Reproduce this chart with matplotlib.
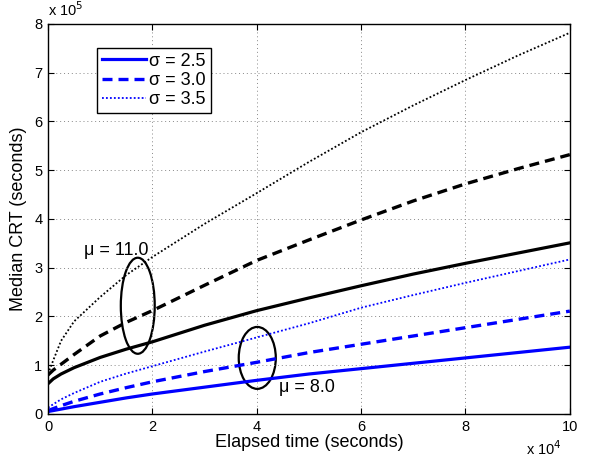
"""Median CRT versus elapsed time for two mu values and three sigma values."""

import matplotlib
matplotlib.use("Agg")
import matplotlib.pyplot as plt
from matplotlib.patches import Ellipse

plt.rcParams["font.family"] = ["Liberation Sans", "DejaVu Sans"]

# elapsed time, units of 1e4 s
elapsed_1e4 = [0, 0.1, 0.25, 0.5, 1, 1.5, 2, 3, 4, 5, 6, 7, 8, 9, 10]

# median CRT, units of 1e5 s
mu11_s25 = [0.62, 0.72, 0.82, 0.95, 1.16, 1.33, 1.48, 1.82, 2.12, 2.38, 2.63, 2.87, 3.09, 3.30, 3.51]
mu11_s30 = [0.80, 0.90, 1.02, 1.22, 1.60, 1.88, 2.12, 2.64, 3.15, 3.57, 3.98, 4.37, 4.72, 5.03, 5.32]
mu11_s35 = [0.82, 1.10, 1.50, 1.90, 2.40, 2.85, 3.22, 3.90, 4.53, 5.17, 5.78, 6.33, 6.85, 7.35, 7.82]
mu8_s25 = [0.05, 0.07, 0.10, 0.15, 0.24, 0.33, 0.41, 0.55, 0.69, 0.82, 0.93, 1.04, 1.15, 1.26, 1.37]
mu8_s30 = [0.07, 0.11, 0.17, 0.26, 0.41, 0.54, 0.66, 0.87, 1.06, 1.26, 1.43, 1.60, 1.77, 1.94, 2.11]
mu8_s35 = [0.13, 0.20, 0.30, 0.43, 0.66, 0.83, 0.98, 1.28, 1.57, 1.86, 2.18, 2.44, 2.69, 2.93, 3.17]

sigma_labels = ["\u03c3 = 2.5", "\u03c3 = 3.0", "\u03c3 = 3.5"]

# (centre x, centre y, width, height) of the annotation ellipses
ellipse_mu11 = (1.72, 2.22, 0.65, 1.97)
ellipse_mu8 = (4.01, 1.15, 0.71, 1.27)


def draw_group(ax, series, color, with_labels=False):
    styles = [
        dict(linestyle="-", linewidth=2.3),
        dict(linestyle=(0, (3.0, 1.8)), linewidth=2.4),
        dict(linestyle=(0, (1.0, 1.2)), linewidth=1.3),
    ]
    for values, style, label in zip(series, styles, sigma_labels):
        ax.plot(elapsed_1e4, values, color=color,
                label=label if with_labels else None, **style)


fig = plt.figure(figsize=(5.95, 4.61), dpi=100)
ax = fig.add_axes([0.0807, 0.102, 0.877, 0.846])

draw_group(ax, [mu11_s25, mu11_s30, mu11_s35], "black")
draw_group(ax, [mu8_s25, mu8_s30, mu8_s35], "#0000ff", with_labels=True)

for cx, cy, w, h in (ellipse_mu11, ellipse_mu8):
    ax.add_patch(Ellipse((cx, cy), w, h, fill=False, edgecolor="black", linewidth=1.6))

ax.text(1.30, 3.36, "\u03bc = 11.0", fontsize=13, ha="center", va="center")
ax.text(4.96, 0.55, "\u03bc = 8.0", fontsize=13, ha="center", va="center")

ax.set_xlim(0, 10)
ax.set_ylim(0, 8)
ax.set_xticks(range(0, 11, 2))
ax.set_yticks(range(0, 9))
ax.tick_params(direction="in", top=True, right=True, length=4, labelsize=10.5, pad=4)
ax.grid(True, color="#888888", linestyle=(0, (1, 3)), linewidth=0.7)
for spine in ax.spines.values():
    spine.set_linewidth(1.0)

ax.set_xlabel("Elapsed time (seconds)", fontsize=13, labelpad=0)
ax.set_ylabel("Median CRT (seconds)", fontsize=13, labelpad=5)
ax.text(0.0, 1.012, "x 10$^{5}$", transform=ax.transAxes, fontsize=10.5,
        ha="left", va="bottom")
ax.text(0.985, -0.065, "x 10$^{4}$", transform=ax.transAxes, fontsize=10.5,
        ha="right", va="top")

leg = ax.legend(loc="upper left", bbox_to_anchor=(0.094, 0.938), borderaxespad=0,
                fontsize=13, handlelength=2.45, fancybox=False, framealpha=1,
                edgecolor="black", borderpad=0.25, labelspacing=0.12, handletextpad=0.2)
leg.get_frame().set_linewidth(1.0)

fig.savefig("out.png", dpi=100)
